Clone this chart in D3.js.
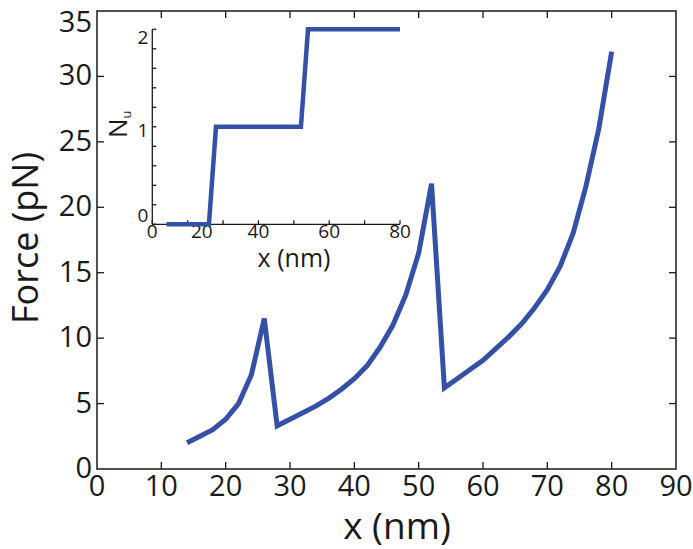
<!DOCTYPE html>
<html>
<head>
<meta charset="utf-8">
<script src="https://cdn.jsdelivr.net/npm/d3@7"></script>
<style>
  html, body { margin: 0; padding: 0; background: #fff; }
  svg { display: block; font-family: 'Open Sans', sans-serif; }
  .frame { fill: none; stroke: #1a1a1a; stroke-width: 1.5; }
  .tick-line { stroke: #1a1a1a; stroke-width: 1.3; }
</style>
</head>
<body>
<svg id="chart"></svg>
<script>
// Main curve: force vs extension
const extNm = [14, 16, 18, 20, 22, 24, 26,
               28, 30, 32, 34, 36, 38, 40, 42, 44, 46, 48, 50, 52,
               54, 56, 58, 60, 62, 64, 66, 68, 70, 72, 74, 76, 78, 80];
const forcePn = [2.0, 2.5, 3.0, 3.8, 5.0, 7.2, 11.5,
                 3.3, 3.8, 4.3, 4.8, 5.4, 6.1, 6.9, 7.9, 9.3, 11.0, 13.3, 16.5, 21.8,
                 6.2, 6.9, 7.6, 8.3, 9.2, 10.1, 11.1, 12.3, 13.7, 15.5, 18.0, 21.6, 26.0, 31.9];

// Inset: number of unfolded domains
const insetExt = [14, 26, 28, 52, 54, 80];
const insetNu = [0, 0, 1, 1, 2, 2];

// Ticks
const xTicks = [0, 10, 20, 30, 40, 50, 60, 70, 80, 90];
const yTicks = [0, 5, 10, 15, 20, 25, 30, 35];
const insetXTicks = [10, 20, 30, 40, 50, 60, 70, 80];
const insetXLabelVals = [10, 24, 40, 60, 80];
const insetXLabels = ['0', '20', '40', '60', '80'];
const insetYTicks = [0, 0.2, 0.4, 0.6, 0.8, 1, 1.2, 1.4, 1.6, 1.8, 2];
const insetYLabels = [0, 1, 2];

const width = 693, height = 549;
const margin = { top: 11, right: 17, bottom: 80, left: 97 };
const inner = { w: width - margin.left - margin.right, h: height - margin.top - margin.bottom };
const lineColor = '#3450a7';
const textColor = '#1a1a1a';

const svg = d3.select('#chart')
    .attr('width', width)
    .attr('height', height);

const g = svg.append('g')
    .attr('transform', `translate(${margin.left},${margin.top})`);

const x = d3.scaleLinear().domain([0, 90]).range([0, inner.w]);
const y = d3.scaleLinear().domain([0, 35]).range([inner.h, 0]);

// Frame
g.append('rect')
    .attr('class', 'frame')
    .attr('width', inner.w)
    .attr('height', inner.h);

// Inward ticks, mirrored on top and right
const tickLen = 7;
xTicks.slice(1, -1).forEach(t => {
    g.append('line').attr('class', 'tick-line')
        .attr('x1', x(t)).attr('x2', x(t))
        .attr('y1', inner.h).attr('y2', inner.h - tickLen);
    g.append('line').attr('class', 'tick-line')
        .attr('x1', x(t)).attr('x2', x(t))
        .attr('y1', 0).attr('y2', tickLen);
});
yTicks.slice(1, -1).forEach(t => {
    g.append('line').attr('class', 'tick-line')
        .attr('x1', 0).attr('x2', tickLen)
        .attr('y1', y(t)).attr('y2', y(t));
    g.append('line').attr('class', 'tick-line')
        .attr('x1', inner.w).attr('x2', inner.w - tickLen)
        .attr('y1', y(t)).attr('y2', y(t));
});

// Tick labels
g.selectAll('.xlab').data(xTicks).enter().append('text')
    .attr('x', d => x(d))
    .attr('y', inner.h + 27)
    .attr('text-anchor', 'middle')
    .style('font-size', '29px')
    .style('fill', textColor)
    .text(d => d);

// top label is nudged down so it stays inside the picture
g.selectAll('.ylab').data(yTicks).enter().append('text')
    .attr('x', -5)
    .attr('y', d => d === 35 ? y(d) + 21 : y(d) + 9)
    .attr('text-anchor', 'end')
    .style('font-size', '29px')
    .style('fill', textColor)
    .text(d => d);

// Axis titles
svg.append('text')
    .attr('x', 397)
    .attr('y', 539)
    .attr('text-anchor', 'middle')
    .style('font-size', '37px')
    .style('fill', textColor)
    .text('x (nm)');

svg.append('text')
    .attr('transform', 'translate(38,238) rotate(-90)')
    .attr('text-anchor', 'middle')
    .style('font-size', '36px')
    .style('fill', textColor)
    .text('Force (pN)');

// Force curve
const line = d3.line()
    .x((d, i) => x(extNm[i]))
    .y(d => y(d));

g.append('path')
    .datum(forcePn)
    .attr('d', line)
    .attr('fill', 'none')
    .attr('stroke', lineColor)
    .attr('stroke-width', 5)
    .attr('stroke-linejoin', 'miter');

// Inset
const ix = d3.scaleLinear().domain([10, 80]).range([152.3, 400]);
const iy = d3.scaleLinear().domain([0, 2]).range([224.3, 29.3]);
const ins = svg.append('g');

ins.append('line').attr('class', 'tick-line')
    .attr('x1', ix(10)).attr('x2', ix(80))
    .attr('y1', iy(0)).attr('y2', iy(0));
ins.append('line').attr('class', 'tick-line')
    .attr('x1', ix(10)).attr('x2', ix(10))
    .attr('y1', iy(0)).attr('y2', iy(2));

insetXTicks.forEach(t => {
    ins.append('line').attr('class', 'tick-line')
        .attr('x1', ix(t)).attr('x2', ix(t))
        .attr('y1', iy(0)).attr('y2', iy(0) - 4);
});
insetYTicks.forEach(t => {
    ins.append('line').attr('class', 'tick-line')
        .attr('x1', ix(10)).attr('x2', ix(10) + 4)
        .attr('y1', iy(t)).attr('y2', iy(t));
});

insetXLabelVals.forEach((v, i) => {
    ins.append('text')
        .attr('x', ix(v))
        .attr('y', 238)
        .attr('text-anchor', 'middle')
        .style('font-size', '19px')
        .style('fill', textColor)
        .text(insetXLabels[i]);
});
// y labels sit a little off their ticks, as in the original
const insetYNudge = [-2.5, 10.3, 14.5];
insetYLabels.forEach((v, i) => {
    ins.append('text')
        .attr('x', ix(10) - 4)
        .attr('y', iy(v) + insetYNudge[i])
        .attr('text-anchor', 'end')
        .style('font-size', '19px')
        .style('fill', textColor)
        .text(v);
});

ins.append('text')
    .attr('x', 294)
    .attr('y', 267)
    .attr('text-anchor', 'middle')
    .style('font-size', '25px')
    .style('fill', textColor)
    .text('x (nm)');

const nu = ins.append('text')
    .attr('transform', 'translate(127,138) rotate(-90)')
    .style('font-size', '26px')
    .style('fill', textColor);
nu.append('tspan').text('N');
nu.append('tspan').attr('dy', 4).style('font-size', '13px').text('u');

const insetLine = d3.line()
    .x((d, i) => ix(insetExt[i]))
    .y(d => iy(d));

ins.append('path')
    .datum(insetNu)
    .attr('d', insetLine)
    .attr('fill', 'none')
    .attr('stroke', lineColor)
    .attr('stroke-width', 4.5);
</script>
</body>
</html>
